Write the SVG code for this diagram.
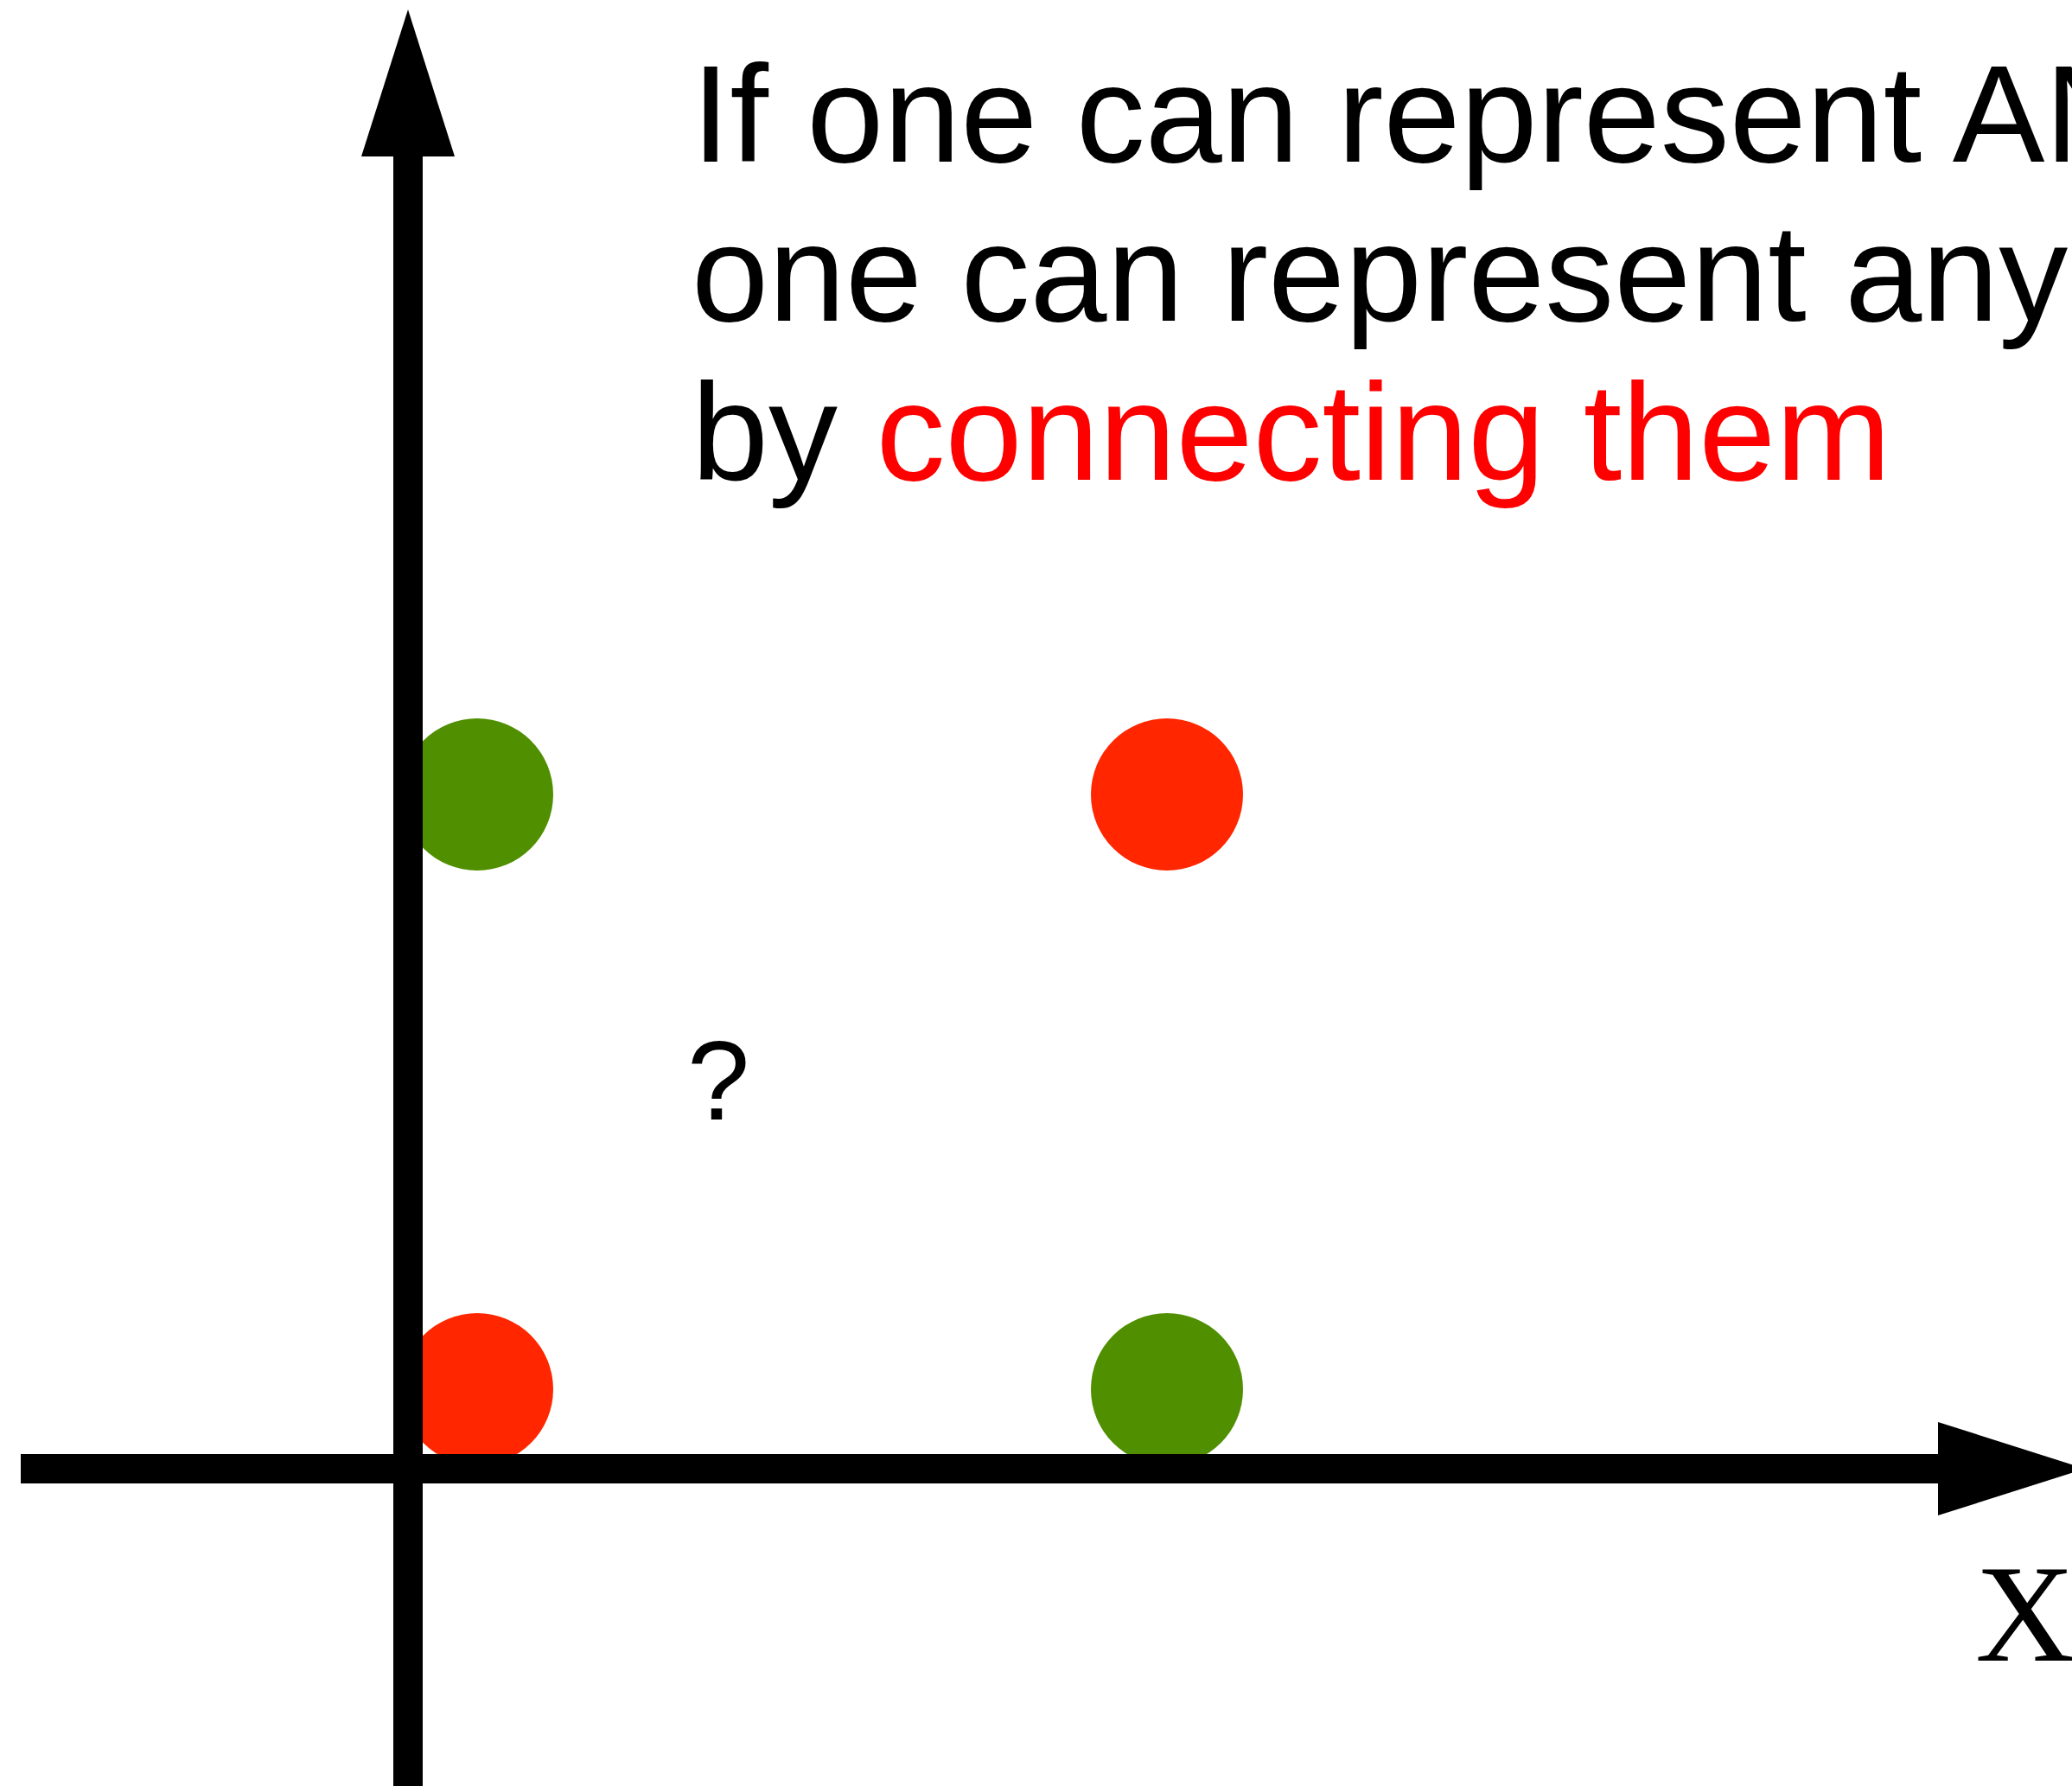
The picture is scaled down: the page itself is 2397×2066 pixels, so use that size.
<svg xmlns="http://www.w3.org/2000/svg" width="2397" height="2066" viewBox="0 0 2397 2066">
  <style>
    .txt { font-family: "Liberation Sans", Arial, sans-serif; font-size: 160px; fill: #000000; }
    .hl { fill: #ff0000; }
    .axis { stroke: #000000; stroke-width: 34; fill: none; }
    .green { fill: #4f8f00; }
    .red { fill: #ff2600; }
    .serif { font-family: "Liberation Serif", "Times New Roman", serif; font-size: 160px; fill: #000000; }
  </style>
  <defs>
    <marker id="head" markerUnits="userSpaceOnUse" markerWidth="172" markerHeight="110" refX="0" refY="54" orient="auto" overflow="visible">
      <path d="M0,0 L170,54 L0,108 Z" fill="#000000"/>
    </marker>
  </defs>
  <rect x="0" y="0" width="2397" height="2066" fill="#ffffff"/>

  <g id="caption">
    <text class="txt" x="800" y="187">If one can represent AN</text>
    <text class="txt" x="800" y="371">one can represent any</text>
    <text class="txt" x="800" y="555">by <tspan class="hl">connecting them</tspan></text>
  </g>

  <g id="point-top-left"><circle class="green" cx="552" cy="919" r="88"/></g>
  <g id="point-top-right"><circle class="red" cx="1350" cy="919" r="88"/></g>
  <g id="point-bottom-left"><circle class="red" cx="552" cy="1607" r="88"/></g>
  <g id="point-bottom-right"><circle class="green" cx="1350" cy="1607" r="88"/></g>

  <g id="question"><text class="txt" x="795" y="1295" style="font-size:130px">?</text></g>

  <g id="connectors">
    <line class="axis" x1="472" y1="2066" x2="472" y2="181" marker-end="url(#head)"/>
    <line class="axis" x1="24" y1="1699" x2="2242" y2="1699" marker-end="url(#head)"/>
  </g>

  <g id="x-label"><text class="serif" x="2285" y="1921">X</text></g>
</svg>
